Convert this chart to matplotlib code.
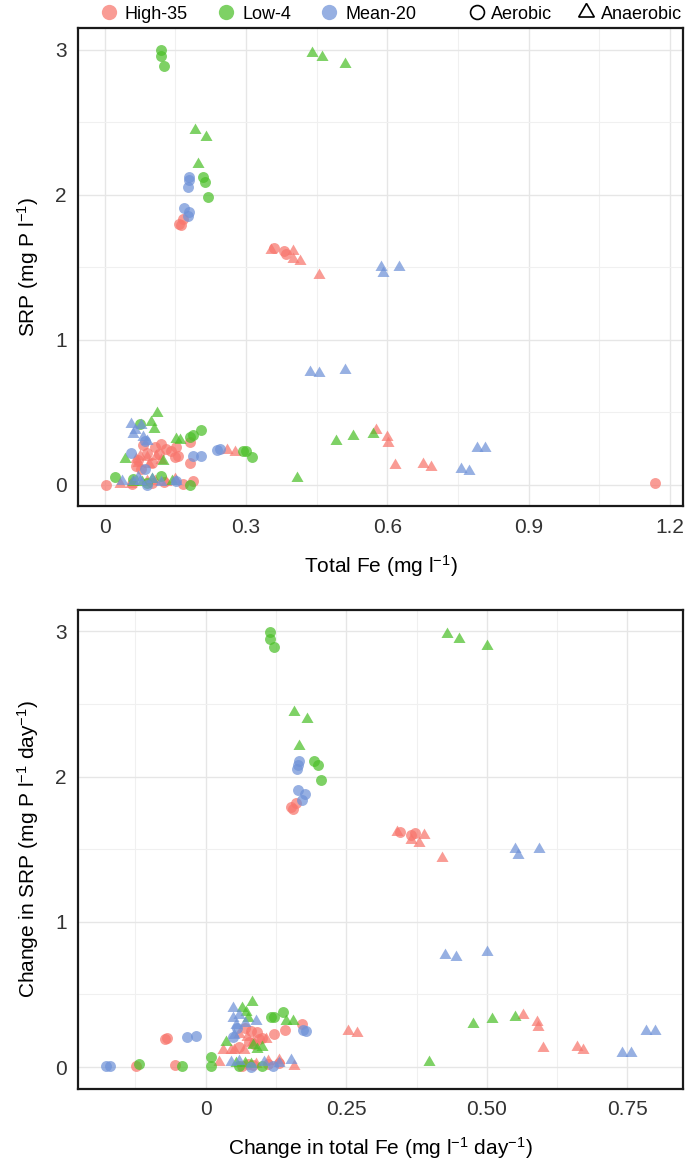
import matplotlib
matplotlib.use("Agg")
import matplotlib.pyplot as plt
from matplotlib.lines import Line2D
from matplotlib.ticker import MultipleLocator

plt.rcParams['font.family'] = ['Liberation Sans', 'DejaVu Sans']
plt.rcParams['mathtext.fontset'] = 'custom'
plt.rcParams['mathtext.rm'] = 'Liberation Sans'
plt.rcParams['mathtext.it'] = 'Liberation Sans:italic'

# ---- top panel: total Fe vs SRP ----
fe_high_aer = [0.002, 0.158, 0.162, 0.166, 0.36, 0.381, 0.385, 1.169, 0.181, 0.152, 0.12, 0.13,
               0.082, 0.106, 0.149, 0.181, 0.067, 0.078, 0.155, 0.188, 0.167, 0.058, 0.1, 0.125,
               0.09, 0.115, 0.14, 0.07, 0.1]
srp_high_aer = [0.0, 1.80, 1.79, 1.83, 1.63, 1.61, 1.59, 0.01, 0.294, 0.26, 0.282, 0.248,
                0.271, 0.26, 0.19, 0.148, 0.132, 0.109, 0.2, 0.028, 0.005, 0.005, 0.01, 0.02,
                0.22, 0.21, 0.23, 0.17, 0.15]
fe_high_ana = [0.353, 0.4, 0.399, 0.414, 0.456, 0.575, 0.6, 0.602, 0.617, 0.676, 0.692, 0.259, 0.277,
               0.067, 0.089, 0.11, 0.032, 0.057, 0.089, 0.106, 0.131, 0.07, 0.095, 0.075, 0.12, 0.15]
srp_high_ana = [1.62, 1.61, 1.56, 1.545, 1.446, 0.38, 0.326, 0.286, 0.134, 0.14, 0.122, 0.241, 0.229,
                0.178, 0.19, 0.201, 0.005, 0.005, 0.028, 0.028, 0.016, 0.15, 0.14, 0.2, 0.17, 0.04]
fe_low_aer = [0.119, 0.119, 0.127, 0.208, 0.214, 0.22, 0.074, 0.204, 0.187, 0.181, 0.294, 0.3,
              0.312, 0.023, 0.119, 0.06, 0.181, 0.09]
srp_low_aer = [3.0, 2.96, 2.89, 2.12, 2.09, 1.985, 0.421, 0.375, 0.34, 0.329, 0.236, 0.236,
               0.19, 0.051, 0.062, 0.039, 0.0, 0.01]
fe_low_ana = [0.441, 0.462, 0.511, 0.192, 0.216, 0.199, 0.492, 0.528, 0.569, 0.408, 0.111, 0.098,
              0.104, 0.152, 0.16, 0.043, 0.123, 0.142, 0.08, 0.06, 0.1]
srp_low_ana = [2.98, 2.95, 2.90, 2.45, 2.40, 2.21, 0.305, 0.333, 0.35, 0.047, 0.498, 0.433,
               0.387, 0.317, 0.31, 0.178, 0.167, 0.028, 0.02, 0.02, 0.04]
fe_mean_aer = [0.18, 0.179, 0.176, 0.169, 0.18, 0.177, 0.238, 0.245, 0.188, 0.204, 0.055, 0.085,
               0.089, 0.152, 0.085]
srp_mean_aer = [2.12, 2.10, 2.055, 1.91, 1.88, 1.85, 0.241, 0.248, 0.201, 0.201, 0.218, 0.109,
                0.0, 0.028, 0.3]
fe_mean_ana = [0.586, 0.59, 0.625, 0.436, 0.456, 0.511, 0.79, 0.808, 0.757, 0.774, 0.056, 0.064,
               0.078, 0.06, 0.082, 0.036, 0.06, 0.074, 0.152, 0.1, 0.09, 0.07, 0.12]
srp_mean_ana = [1.50, 1.46, 1.50, 0.78, 0.77, 0.79, 0.255, 0.255, 0.11, 0.098, 0.421, 0.375,
                0.41, 0.352, 0.329, 0.028, 0.028, 0.028, 0.028, 0.04, 0.3, 0.05, 0.02]

# ---- bottom panel: change in total Fe vs change in SRP ----
dfe_high_aer = [-0.124, -0.055, -0.073, -0.068, 0.151, 0.156, 0.16, 0.345, 0.366, 0.372, 0.142, 0.172,
                0.121, 0.077, 0.086, 0.092, 0.07, 0.1, 0.065, 0.075, 0.085, 0.11, 0.13,
                0.08, 0.095, 0.06]
dsrp_high_aer = [0.007, 0.014, 0.19, 0.2, 1.79, 1.78, 1.82, 1.62, 1.60, 1.61, 0.257, 0.296,
                 0.226, 0.173, 0.162, 0.243, 0.27, 0.2, 0.01, 0.02, 0.015, 0.02, 0.03,
                 0.25, 0.19, 0.14]
dfe_high_ana = [0.341, 0.366, 0.38, 0.389, 0.421, 0.565, 0.589, 0.591, 0.6, 0.66, 0.672, 0.254, 0.27,
                0.03, 0.051, 0.068, 0.074, 0.107, 0.06, 0.024, 0.131, 0.157, 0.09, 0.085, 0.045, 0.11]
dsrp_high_ana = [1.62, 1.56, 1.54, 1.60, 1.44, 0.358, 0.307, 0.273, 0.134, 0.141, 0.118, 0.245, 0.233,
                 0.116, 0.116, 0.116, 0.208, 0.196, 0.23, 0.035, 0.046, 0.01, 0.02, 0.17, 0.12, 0.04]
dfe_low_aer = [0.114, 0.115, 0.122, 0.193, 0.199, 0.205, 0.116, 0.122, 0.138, -0.119, -0.042,
               0.009, 0.01, 0.06, 0.1]
dsrp_low_aer = [2.995, 2.95, 2.89, 2.11, 2.08, 1.98, 0.347, 0.347, 0.38, 0.02, 0.01,
                0.069, 0.007, 0.01, 0.005]
dfe_low_ana = [0.429, 0.45, 0.5, 0.158, 0.181, 0.166, 0.475, 0.509, 0.55, 0.397, 0.082, 0.064,
               0.071, 0.075, 0.143, 0.155, 0.036, 0.092, 0.085, 0.054, 0.08, 0.1, 0.07]
dsrp_low_ana = [2.98, 2.95, 2.90, 2.445, 2.40, 2.21, 0.296, 0.33, 0.347, 0.037, 0.446, 0.407,
                0.377, 0.34, 0.32, 0.32, 0.173, 0.127, 0.15, 0.03, 0.02, 0.14, 0.03]
dfe_mean_aer = [-0.178, -0.171, -0.034, -0.018, 0.166, 0.164, 0.162, 0.165, 0.176, 0.172, 0.173,
                0.179, 0.049, 0.055, 0.08, 0.12]
dsrp_mean_aer = [0.007, 0.007, 0.208, 0.213, 2.11, 2.08, 2.05, 1.91, 1.88, 1.84, 0.254,
                 0.25, 0.208, 0.27, 0.0, 0.01]
dfe_mean_ana = [0.551, 0.556, 0.592, 0.425, 0.445, 0.5, 0.784, 0.8, 0.74, 0.756, 0.048, 0.048,
                0.054, 0.051, 0.045, 0.104, 0.152, 0.06, 0.07, 0.06, 0.13, 0.09]
dsrp_mean_ana = [1.50, 1.46, 1.50, 0.77, 0.76, 0.79, 0.25, 0.25, 0.1, 0.095, 0.407, 0.335,
                 0.289, 0.22, 0.035, 0.035, 0.046, 0.36, 0.3, 0.04, 0.03, 0.32]

group_names = ['High-35', 'Low-4', 'Mean-20']
colors = ['#F8766D', '#4CC02A', '#6F92D8']
TRI = (3, 0, 0)


def draw_panel(ax, series, xticks, xticklabels, xlabel, ylabel):
    allx, ally = [], []
    for x, y, col, mk in series:
        size = 100 if mk == TRI else 62
        ax.scatter(x, y, s=size, c=col, marker=mk, alpha=0.72, linewidths=0, zorder=3)
        allx += x
        ally += y
    # ggplot-like 5% expansion
    x0, x1 = min(allx), max(allx)
    y0, y1 = min(ally), max(ally)
    ax.set_xlim(x0 - 0.05 * (x1 - x0), x1 + 0.05 * (x1 - x0))
    ax.set_ylim(y0 - 0.05 * (y1 - y0), y1 + 0.05 * (y1 - y0))
    ax.set_xticks(xticks)
    ax.set_xticklabels(xticklabels)
    ax.set_yticks([0, 1, 2, 3])
    ax.set_yticklabels(['0', '1', '2', '3'])
    step = xticks[1] - xticks[0]
    ax.xaxis.set_minor_locator(MultipleLocator(step / 2))
    ax.yaxis.set_minor_locator(MultipleLocator(0.5))
    ax.grid(True, which='major', color='#e6e6e6', linewidth=1.0, zorder=0)
    ax.grid(True, which='minor', color='#f0f0f0', linewidth=0.8, zorder=0)
    ax.set_axisbelow(True)
    ax.tick_params(which='both', length=0, labelsize=15, labelcolor='#333333', pad=8)
    for sp in ax.spines.values():
        sp.set_linewidth(1.6)
        sp.set_color('#1a1a1a')
    ax.set_xlabel(xlabel, fontsize=15, labelpad=12)
    ax.set_ylabel(ylabel, fontsize=15, labelpad=10)


fig = plt.figure(figsize=(6.85, 11.67), dpi=100)
ax1 = fig.add_axes([0.114, 0.566, 0.883, 0.410])
ax2 = fig.add_axes([0.114, 0.067, 0.883, 0.410])

top_series = [
    (fe_high_aer, srp_high_aer, colors[0], 'o'), (fe_high_ana, srp_high_ana, colors[0], TRI),
    (fe_low_aer, srp_low_aer, colors[1], 'o'), (fe_low_ana, srp_low_ana, colors[1], TRI),
    (fe_mean_aer, srp_mean_aer, colors[2], 'o'), (fe_mean_ana, srp_mean_ana, colors[2], TRI),
]
bottom_series = [
    (dfe_high_aer, dsrp_high_aer, colors[0], 'o'), (dfe_high_ana, dsrp_high_ana, colors[0], TRI),
    (dfe_low_aer, dsrp_low_aer, colors[1], 'o'), (dfe_low_ana, dsrp_low_ana, colors[1], TRI),
    (dfe_mean_aer, dsrp_mean_aer, colors[2], 'o'), (dfe_mean_ana, dsrp_mean_ana, colors[2], TRI),
]

draw_panel(ax1, top_series, [0, 0.3, 0.6, 0.9, 1.2], ['0', '0.3', '0.6', '0.9', '1.2'],
           'Total Fe (mg l$^{-1}$)', 'SRP (mg P l$^{-1}$)')
draw_panel(ax2, bottom_series, [0, 0.25, 0.5, 0.75], ['0', '0.25', '0.50', '0.75'],
           'Change in total Fe (mg l$^{-1}$ day$^{-1}$)', 'Change in SRP (mg P l$^{-1}$ day$^{-1}$)')

# legends on top
grp_handles = [Line2D([], [], marker='o', linestyle='', markersize=11, markerfacecolor=c,
                      markeredgewidth=0, alpha=0.72) for c in colors]
leg1 = fig.legend(grp_handles, group_names, loc='center left', bbox_to_anchor=(0.135, 0.988),
                  ncol=3, frameon=False, fontsize=13, handletextpad=0.4, columnspacing=1.6,
                  handlelength=1.0, borderaxespad=0)
shape_handles = [Line2D([], [], marker='o', linestyle='', markersize=10, markerfacecolor='none',
                        markeredgecolor='black', markeredgewidth=1.2),
                 Line2D([], [], marker=TRI, linestyle='', markersize=13, markerfacecolor='none',
                        markeredgecolor='black', markeredgewidth=1.2)]
leg2 = fig.legend(shape_handles, ['Aerobic', 'Anaerobic'], loc='center left',
                  bbox_to_anchor=(0.672, 0.988), ncol=2, frameon=False, fontsize=13,
                  handletextpad=0.3, columnspacing=1.4, handlelength=1.0, borderaxespad=0)

fig.savefig('out.png', dpi=100)
